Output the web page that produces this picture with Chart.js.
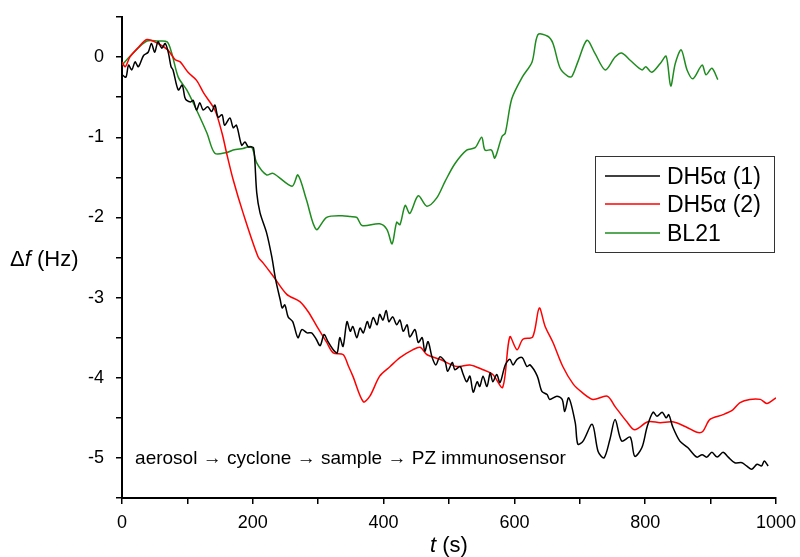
<!DOCTYPE html>
<html>
<head>
<meta charset="utf-8">
<script src="https://cdn.jsdelivr.net/npm/chart.js@4.4.1/dist/chart.umd.min.js"></script>
<style>
  html, body { margin: 0; padding: 0; background: #fff; }
  #wrap { width: 800px; height: 557px; }
</style>
</head>
<body>
<div id="wrap"><canvas id="freq-chart"></canvas></div>
<script>
// DH5α (1) - black
const dh1T = [0, 6, 10, 15, 20, 25, 33, 40, 45, 50, 55, 61, 66, 71, 75, 78, 86, 92, 96, 99, 105, 109, 114, 119, 124, 131, 137, 142, 147, 153, 157, 165, 170, 175, 183, 188, 193, 198, 201, 203, 206, 211, 221, 229, 235, 242, 245, 249, 254, 261, 269, 275, 283, 290, 297, 303, 309, 315, 323, 329, 333, 338, 344, 349, 353, 359, 364, 369, 375, 379, 384, 390, 394, 399, 404, 408, 414, 420, 425, 430, 436, 440, 448, 453, 459, 463, 468, 474, 480, 486, 494, 498, 505, 509, 517, 521, 527, 532, 537, 543, 547, 552, 558, 563, 567, 573, 578, 586, 593, 598, 604, 612, 619, 624, 635, 642, 650, 654, 665, 673, 677, 683, 693, 697, 705, 719, 728, 737, 746, 754, 764, 777, 784, 795, 803, 812, 818, 826, 832, 836, 842, 853, 865, 879, 887, 894, 902, 910, 919, 927, 937, 948, 955, 963, 971, 978, 982, 988];
const dh1V = [-0.22, -0.25, -0.10, -0.16, -0.06, -0.12, 0.02, 0.06, 0.17, 0.06, 0.19, 0.11, 0.17, 0.05, -0.12, -0.16, -0.41, -0.35, -0.50, -0.54, -0.56, -0.54, -0.66, -0.57, -0.66, -0.62, -0.68, -0.60, -0.75, -0.72, -0.85, -0.76, -0.88, -0.85, -1.10, -1.06, -1.12, -1.12, -1.13, -1.28, -1.69, -1.94, -2.19, -2.49, -2.78, -3.03, -3.13, -3.09, -3.24, -3.30, -3.50, -3.40, -3.44, -3.44, -3.52, -3.60, -3.46, -3.55, -3.65, -3.69, -3.50, -3.61, -3.30, -3.42, -3.36, -3.50, -3.38, -3.44, -3.30, -3.38, -3.25, -3.34, -3.21, -3.28, -3.16, -3.30, -3.24, -3.34, -3.28, -3.42, -3.34, -3.49, -3.40, -3.56, -3.50, -3.67, -3.55, -3.74, -3.84, -3.74, -3.80, -3.92, -3.81, -3.90, -3.86, -3.94, -4.05, -3.98, -4.18, -4.05, -4.11, -3.98, -4.11, -3.94, -4.05, -3.96, -4.06, -3.84, -3.77, -3.84, -3.77, -3.75, -3.86, -3.84, -3.98, -4.17, -4.21, -4.27, -4.23, -4.27, -4.42, -4.25, -4.56, -4.83, -4.79, -4.58, -4.92, -5.00, -4.77, -4.52, -4.79, -4.74, -4.98, -4.87, -4.61, -4.43, -4.48, -4.43, -4.50, -4.46, -4.61, -4.79, -4.87, -4.99, -4.96, -4.99, -4.93, -4.99, -4.93, -4.99, -5.06, -5.06, -5.10, -5.14, -5.08, -5.10, -5.04, -5.10];

// DH5α (2) - red
const dh2T = [0, 5, 12, 25, 38, 55, 70, 81, 89, 101, 114, 125, 142, 153, 160, 170, 185, 208, 216, 231, 252, 272, 285, 298, 313, 323, 338, 346, 353, 369, 379, 394, 410, 425, 445, 456, 466, 486, 512, 532, 552, 567, 582, 593, 604, 613, 628, 638, 647, 659, 674, 690, 703, 720, 742, 754, 772, 784, 804, 823, 842, 864, 879, 888, 899, 919, 934, 945, 960, 976, 986, 1000];
const dh2V = [-0.06, -0.12, 0.00, 0.12, 0.22, 0.17, 0.09, -0.03, -0.06, -0.19, -0.29, -0.45, -0.66, -0.95, -1.20, -1.53, -1.94, -2.49, -2.57, -2.73, -2.96, -3.05, -3.18, -3.36, -3.56, -3.69, -3.71, -3.85, -3.98, -4.30, -4.23, -3.98, -3.86, -3.75, -3.65, -3.62, -3.71, -3.77, -3.86, -3.84, -3.90, -3.96, -4.12, -3.49, -3.65, -3.52, -3.49, -3.13, -3.36, -3.56, -3.86, -4.08, -4.18, -4.27, -4.23, -4.36, -4.55, -4.65, -4.55, -4.56, -4.55, -4.62, -4.68, -4.67, -4.52, -4.46, -4.40, -4.31, -4.27, -4.27, -4.32, -4.25];

// BL21 - green
const blT = [0, 17, 38, 55, 69, 76, 86, 99, 114, 130, 142, 160, 170, 185, 198, 206, 221, 231, 260, 269, 282, 297, 313, 336, 349, 359, 367, 394, 405, 413, 420, 425, 433, 440, 453, 466, 481, 494, 509, 527, 540, 550, 555, 565, 570, 581, 586, 596, 612, 627, 636, 651, 659, 670, 682, 688, 697, 711, 723, 739, 754, 764, 777, 795, 801, 810, 823, 832, 839, 846, 855, 864, 873, 887, 893, 902, 911];
const blV = [-0.10, 0.05, 0.20, 0.20, 0.19, 0.05, -0.25, -0.41, -0.66, -0.95, -1.20, -1.19, -1.16, -1.14, -1.12, -1.32, -1.47, -1.45, -1.61, -1.47, -1.78, -2.15, -2.00, -1.98, -1.99, -2.00, -2.10, -2.08, -2.15, -2.33, -2.06, -2.09, -1.85, -1.95, -1.73, -1.86, -1.76, -1.55, -1.33, -1.16, -1.13, -1.00, -1.16, -1.16, -1.26, -0.99, -0.95, -0.52, -0.25, -0.06, 0.28, 0.26, 0.17, -0.14, -0.24, -0.24, -0.06, 0.21, 0.05, -0.16, 0.00, 0.05, -0.04, -0.16, -0.12, -0.19, -0.08, 0.01, -0.36, -0.08, 0.09, -0.16, -0.27, -0.10, -0.22, -0.14, -0.28];

const seriesLabels = ['DH5α (1)', 'DH5α (2)', 'BL21'];
const seriesColors = ['#000000', '#ff0000', '#1e8c1e'];
const noteText = 'aerosol \u2192 cyclone \u2192 sample \u2192 PZ immunosensor';

const FONT = "'Liberation Sans', Arial, sans-serif";
Chart.defaults.font.family = FONT;
Chart.defaults.color = '#000';

function toPoints(ts, vs) {
    return ts.map((t, i) => ({ x: t, y: vs[i] }));
}

// axis titles, note and legend box drawn on the canvas
const extras = {
    id: 'extras',
    afterDraw(chart) {
        const ctx = chart.ctx;
        const xs = chart.scales.x, ys = chart.scales.y;
        ctx.save();
        ctx.fillStyle = '#000';
        ctx.textBaseline = 'alphabetic';

        // y title: Δf (Hz)
        let x = 10;
        const yb = 266;
        ctx.font = '22px ' + FONT;
        ctx.fillText('\u0394', x, yb); x += ctx.measureText('\u0394').width;
        ctx.font = 'italic 22px ' + FONT;
        ctx.fillText('f', x, yb); x += ctx.measureText('f').width;
        ctx.font = '22px ' + FONT;
        ctx.fillText(' (Hz)', x, yb);

        // x title: t (s)
        ctx.font = 'italic 22px ' + FONT;
        const wt = ctx.measureText('t').width;
        ctx.font = '22px ' + FONT;
        const ws = ctx.measureText(' (s)').width;
        let cx = (chart.chartArea.left + chart.chartArea.right) / 2 - (wt + ws) / 2;
        ctx.font = 'italic 22px ' + FONT;
        ctx.fillText('t', cx, 552);
        ctx.font = '22px ' + FONT;
        ctx.fillText(' (s)', cx + wt, 552);

        // note
        ctx.font = '19px ' + FONT;
        ctx.fillText(noteText, xs.getPixelForValue(20), ys.getPixelForValue(-5) + 6);

        // legend
        const bx = 595, by = 156, bw = 179, bh = 96;
        ctx.fillStyle = '#fff';
        ctx.fillRect(bx, by, bw, bh);
        ctx.strokeStyle = '#333';
        ctx.lineWidth = 1;
        ctx.strokeRect(bx + 0.5, by + 0.5, bw, bh);
        ctx.font = '23px ' + FONT;
        const rows = [184, 212, 241];
        rows.forEach((b, i) => {
            ctx.strokeStyle = seriesColors[i];
            ctx.lineWidth = 1.5;
            ctx.beginPath();
            ctx.moveTo(605, b - 8);
            ctx.lineTo(660, b - 8);
            ctx.stroke();
            ctx.fillStyle = '#000';
            ctx.fillText(seriesLabels[i], 667, b);
        });
        ctx.restore();
    }
};

const ctx = document.getElementById('freq-chart').getContext('2d');
const chart = new Chart(ctx, {
    type: 'line',
    data: {
        datasets: [
            { label: seriesLabels[0], data: toPoints(dh1T, dh1V), borderColor: seriesColors[0] },
            { label: seriesLabels[1], data: toPoints(dh2T, dh2V), borderColor: seriesColors[1] },
            { label: seriesLabels[2], data: toPoints(blT, blV), borderColor: seriesColors[2] }
        ]
    },
    options: {
        responsive: true,
        maintainAspectRatio: false,
        animation: false,
        layout: { padding: { left: 0, top: 17, right: 24, bottom: 0 } },
        elements: {
            point: { radius: 0 },
            line: { borderWidth: 1.5, tension: 0.3, fill: false }
        },
        plugins: {
            legend: { display: false },
            tooltip: { enabled: false }
        },
        scales: {
            x: {
                type: 'linear',
                min: 0,
                max: 1000,
                afterFit: s => { s.height = 59; s.paddingLeft = 0; s.paddingRight = 0; },
                ticks: {
                    stepSize: 100,
                    autoSkip: false,
                    maxRotation: 0,
                    padding: 8,
                    font: { size: 18 },
                    callback: v => (v % 200 === 0 ? String(v) : '')
                },
                grid: { drawOnChartArea: false, drawTicks: true, tickLength: 6, color: '#000', lineWidth: 1.5 },
                border: { display: true, color: '#000', width: 2 }
            },
            y: {
                min: -5.5,
                max: 0.5,
                afterFit: s => { s.width = 122; s.paddingTop = 0; s.paddingBottom = 0; },
                ticks: {
                    stepSize: 0.5,
                    autoSkip: false,
                    padding: 12,
                    font: { size: 18 },
                    callback: v => (Number.isInteger(v) ? String(v) : '')
                },
                grid: { drawOnChartArea: false, drawTicks: true, tickLength: 6, color: '#000', lineWidth: 1.5 },
                border: { display: true, color: '#000', width: 2 }
            }
        }
    },
    plugins: [extras]
});
</script>
</body>
</html>
